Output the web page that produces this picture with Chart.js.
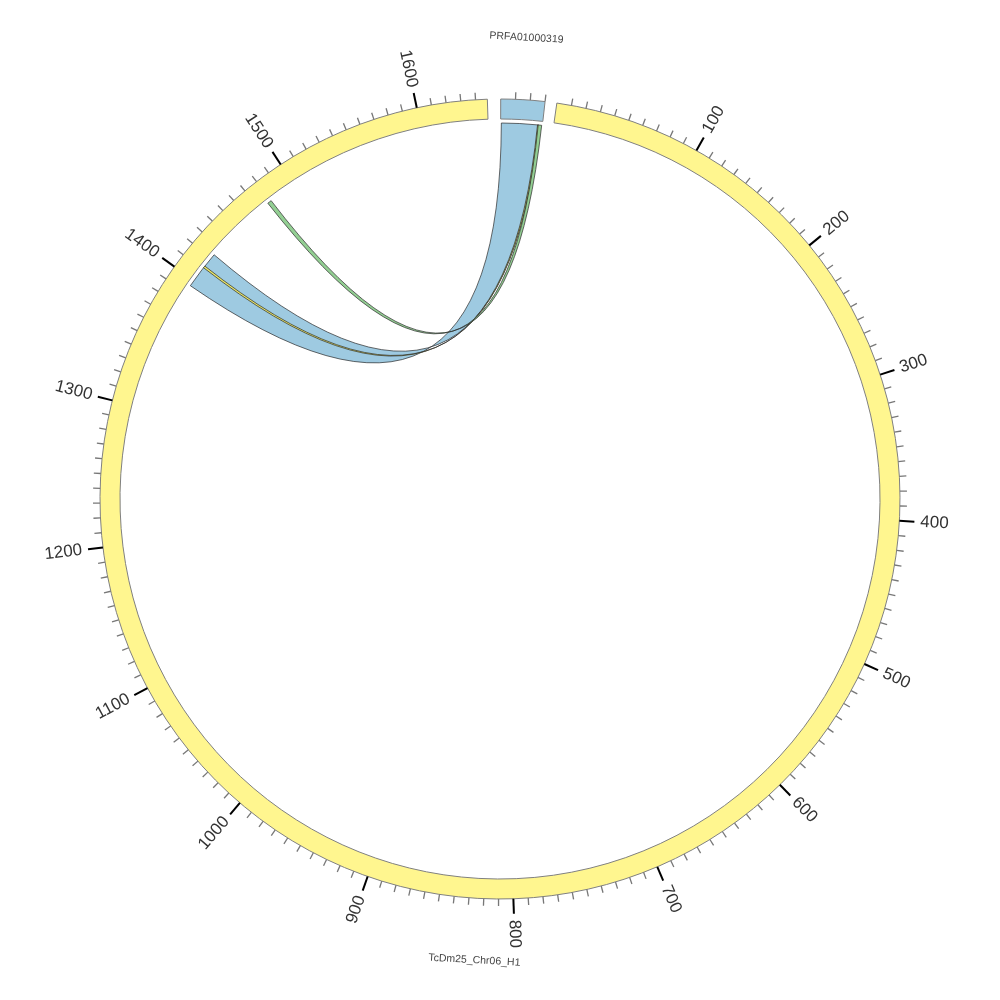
<!DOCTYPE html>
<html>
<head>
<meta charset="utf-8">
<script src="https://cdn.jsdelivr.net/npm/chart.js@4.4.0/dist/chart.umd.min.js"></script>
<style>
  body { margin: 0; background: #fff; }
  #wrap { width: 1000px; height: 1000px; }
</style>
</head>
<body>
<div id="wrap"><canvas id="circos" width="1000" height="1000"></canvas></div>
<script>
// segments of the ideogram (in kb), gaps are blank slices
const segNames = ["PRFA01000319", "gap1", "TcDm25_Chr06_H1", "gap2"];
const segLengths = [30, 8, 1648, 9];
const segColors = ["#9ecae1", "rgba(0,0,0,0)", "#fff68f", "rgba(0,0,0,0)"];
const segIsGap = [false, true, false, true];

const tickStep = 10;
const labelStep = 100;

// links: PRFA01000319 -> TcDm25_Chr06_H1 (reversed)
const linkSrcStart = [0.5, 26.5, 27];
const linkSrcEnd = [27, 27.5, 29.5];
const linkTgtStart = [1423.5, 1413, 1480];
const linkTgtEnd = [1395.5, 1411.5, 1477];
const linkColors = ["#9ecae1", "#e8e66a", "#93cf93"];

const circosPlugin = {
  id: "circosExtras",
  afterDatasetsDraw(chart) {
    const ctx = chart.ctx;
    const arcs = chart.getDatasetMeta(0).data;
    const p0 = arcs[0].getProps(["x", "y", "outerRadius", "innerRadius"], true);
    const cx = p0.x, cy = p0.y, R = p0.outerRadius, rLink = p0.innerRadius - 4;

    function ang(i, v) {
      const a = arcs[i].getProps(["startAngle", "endAngle"], true);
      return a.startAngle + (v / segLengths[i]) * (a.endAngle - a.startAngle);
    }
    function pt(a, r) { return [cx + r * Math.cos(a), cy + r * Math.sin(a)]; }

    // links
    for (let k = 0; k < linkColors.length; k++) {
      const a1 = ang(0, linkSrcStart[k]), a2 = ang(0, linkSrcEnd[k]);
      const b1 = ang(2, linkTgtStart[k]), b2 = ang(2, linkTgtEnd[k]);
      ctx.save();
      ctx.beginPath();
      const s = pt(a1, rLink);
      ctx.moveTo(s[0], s[1]);
      ctx.arc(cx, cy, rLink, a1, a2, a2 < a1);
      const t = pt(b1, rLink);
      ctx.quadraticCurveTo(cx, cy, t[0], t[1]);
      ctx.arc(cx, cy, rLink, b1, b2, b2 < b1);
      ctx.quadraticCurveTo(cx, cy, s[0], s[1]);
      ctx.closePath();
      ctx.fillStyle = linkColors[k];
      ctx.fill();
      ctx.strokeStyle = "#2a2a2a";
      ctx.lineWidth = 0.7;
      ctx.stroke();
      ctx.restore();
    }

    // ticks and labels
    ctx.save();
    for (let i = 0; i < segLengths.length; i++) {
      if (segIsGap[i]) continue;
      for (let v = tickStep; v <= segLengths[i] + 1e-6; v += tickStep) {
        const a = ang(i, v);
        const major = v % labelStep === 0;
        const q1 = pt(a, R), q2 = pt(a, R + (major ? 15 : 7));
        ctx.beginPath();
        ctx.moveTo(q1[0], q1[1]);
        ctx.lineTo(q2[0], q2[1]);
        ctx.strokeStyle = major ? "#000" : "#777";
        ctx.lineWidth = major ? 2 : 1.3;
        ctx.stroke();
        if (major) {
          const lp = pt(a, R + 21);
          const deg = ((a * 180 / Math.PI) + 90 + 360) % 360;
          ctx.save();
          ctx.translate(lp[0], lp[1]);
          if (deg < 180) { ctx.rotate(a); ctx.textAlign = "left"; }
          else { ctx.rotate(a + Math.PI); ctx.textAlign = "right"; }
          ctx.textBaseline = "middle";
          ctx.font = '17px "Liberation Sans", Arial, sans-serif';
          ctx.fillStyle = "#333";
          ctx.fillText(String(v), 0, 0);
          ctx.restore();
        }
      }
      // segment name
      const am = ang(i, segLengths[i] / 2);
      const np = pt(am, R + 62);
      ctx.save();
      ctx.translate(np[0], np[1]);
      ctx.rotate(Math.sin(am) < 0 ? am + Math.PI / 2 : am - Math.PI / 2);
      ctx.textAlign = "center";
      ctx.textBaseline = "middle";
      ctx.font = '10.5px "Liberation Sans", Arial, sans-serif';
      ctx.fillStyle = "#444";
      ctx.fillText(segNames[i], 0, 0);
      ctx.restore();
    }
    ctx.restore();
  }
};

new Chart(document.getElementById("circos"), {
  type: "doughnut",
  data: {
    labels: segNames,
    datasets: [{
      data: segLengths,
      backgroundColor: segColors,
      borderColor: segIsGap.map(g => g ? "rgba(0,0,0,0)" : "#808080"),
      borderWidth: segIsGap.map(g => g ? 0 : 1),
      hoverOffset: 0
    }]
  },
  options: {
    responsive: false,
    animation: false,
    rotation: 0.1,
    radius: 400,
    cutout: "95%",
    layout: { padding: { top: 0, bottom: 2 } },
    plugins: {
      legend: { display: false },
      tooltip: { enabled: false }
    }
  },
  plugins: [circosPlugin]
});
</script>
</body>
</html>
